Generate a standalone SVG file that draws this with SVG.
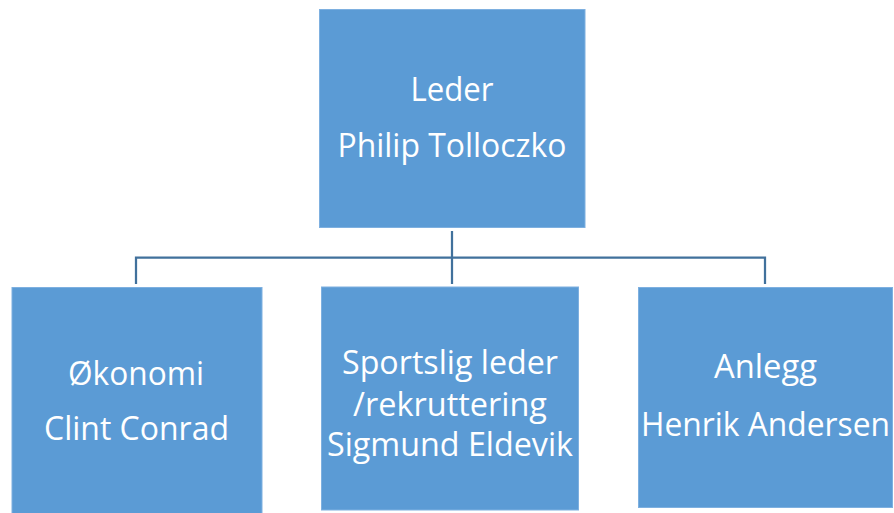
<svg xmlns="http://www.w3.org/2000/svg" width="894" height="513" viewBox="0 0 894 513">
<style>
.box{fill:#5b9bd5;stroke:#7eb0e0;stroke-width:1}
.t{font-family:"Open Sans","Noto Sans",sans-serif;font-size:33px;fill:#ffffff;text-anchor:middle}
.c{fill:none;stroke:#41719c;stroke-width:2.25}
</style>
<rect width="894" height="513" fill="#ffffff"/>
<g id="connectors">
<path class="c" d="M452,231 V284"/>
<path class="c" d="M136,284 V257.5 H765 V284"/>
</g>
<g id="leder">
<rect class="box" x="319.5" y="9.5" width="265.5" height="218"/>
<text class="t" x="452" y="101" textLength="83" lengthAdjust="spacingAndGlyphs">Leder</text>
<text class="t" x="452" y="157" textLength="229" lengthAdjust="spacingAndGlyphs">Philip Tolloczko</text>
</g>
<g id="okonomi">
<rect class="box" x="12" y="287.5" width="250" height="230"/>
<text class="t" x="136" y="385" textLength="136" lengthAdjust="spacingAndGlyphs">Økonomi</text>
<text class="t" x="136.5" y="440" textLength="185" lengthAdjust="spacingAndGlyphs">Clint Conrad</text>
</g>
<g id="sportslig">
<rect class="box" x="321.5" y="287" width="257" height="223"/>
<text class="t" x="450" y="374" textLength="216" lengthAdjust="spacingAndGlyphs">Sportslig leder</text>
<text class="t" x="450" y="416" textLength="194" lengthAdjust="spacingAndGlyphs">/rekruttering</text>
<text class="t" x="450" y="456" textLength="246" lengthAdjust="spacingAndGlyphs">Sigmund Eldevik</text>
</g>
<g id="anlegg">
<rect class="box" x="638.5" y="287.5" width="254" height="220"/>
<text class="t" x="765.5" y="378" textLength="103" lengthAdjust="spacingAndGlyphs">Anlegg</text>
<text class="t" x="765.5" y="435.5" textLength="249" lengthAdjust="spacingAndGlyphs">Henrik Andersen</text>
</g>
</svg>
